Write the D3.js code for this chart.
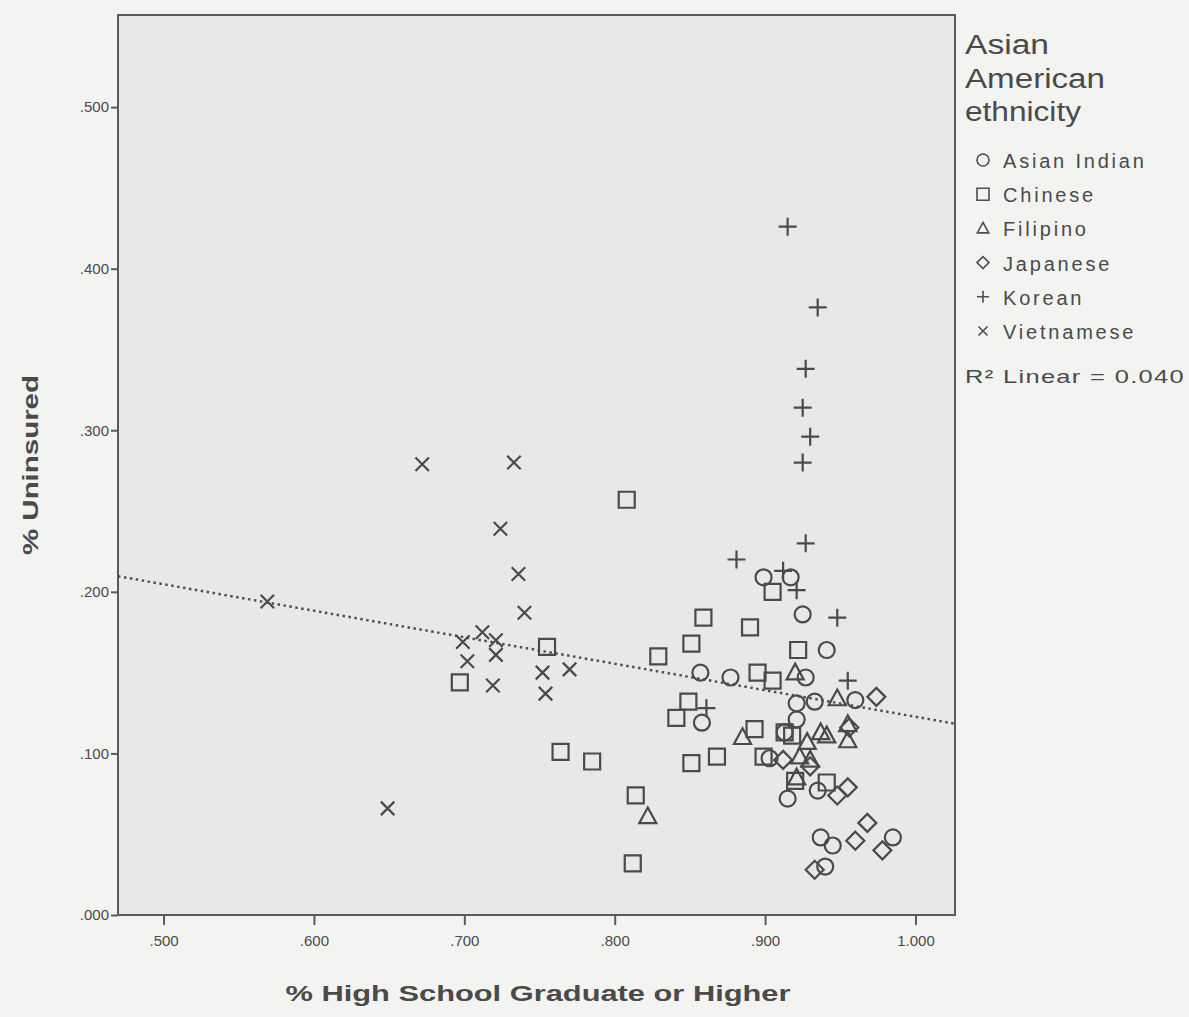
<!DOCTYPE html>
<html>
<head>
<meta charset="utf-8">
<script src="https://cdn.jsdelivr.net/npm/d3@7"></script>
<style>
  body { margin: 0; background: #f3f3f1; }
  text { font-family: "Liberation Sans", Arial, sans-serif; fill: #4a4a4a; }
</style>
</head>
<body>
<div id="chart"></div>
<script>
// values (proportions)
const categories = ["Asian Indian", "Chinese", "Filipino", "Japanese", "Korean", "Vietnamese"];

const asianIndian = [
  [0.899, 0.209], [0.917, 0.209], [0.925, 0.186], [0.941, 0.164], [0.857, 0.150],
  [0.877, 0.147], [0.927, 0.147], [0.921, 0.131], [0.960, 0.133], [0.858, 0.119],
  [0.921, 0.121], [0.903, 0.097], [0.935, 0.077], [0.915, 0.072], [0.937, 0.048],
  [0.945, 0.043], [0.985, 0.048], [0.940, 0.030], [0.913, 0.113], [0.933, 0.132]
];
const chinese = [
  [0.808, 0.257], [0.697, 0.144], [0.755, 0.166], [0.764, 0.101], [0.785, 0.095],
  [0.829, 0.160], [0.814, 0.074], [0.812, 0.032], [0.851, 0.168], [0.859, 0.184],
  [0.890, 0.178], [0.895, 0.150], [0.905, 0.145], [0.922, 0.164], [0.905, 0.200],
  [0.849, 0.132], [0.841, 0.122], [0.851, 0.094], [0.868, 0.098], [0.893, 0.115],
  [0.913, 0.113], [0.918, 0.111], [0.899, 0.098], [0.920, 0.083], [0.941, 0.082]
];
const filipino = [
  [0.822, 0.061], [0.885, 0.110], [0.920, 0.150], [0.948, 0.134], [0.941, 0.111],
  [0.955, 0.118], [0.955, 0.108], [0.928, 0.107], [0.930, 0.096], [0.937, 0.113],
  [0.923, 0.098], [0.921, 0.085]
];
const japanese = [
  [0.974, 0.135], [0.956, 0.116], [0.968, 0.057], [0.960, 0.046], [0.978, 0.040],
  [0.933, 0.028], [0.955, 0.079], [0.948, 0.074], [0.912, 0.096], [0.930, 0.092]
];
const korean = [
  [0.915, 0.426], [0.935, 0.376], [0.927, 0.338], [0.925, 0.314], [0.930, 0.296],
  [0.925, 0.280], [0.927, 0.230], [0.881, 0.220], [0.912, 0.213], [0.921, 0.201],
  [0.948, 0.184], [0.955, 0.145], [0.861, 0.128]
];
const vietnamese = [
  [0.569, 0.194], [0.672, 0.279], [0.733, 0.280], [0.724, 0.239], [0.736, 0.211],
  [0.740, 0.187], [0.712, 0.175], [0.699, 0.169], [0.721, 0.170], [0.721, 0.161],
  [0.702, 0.157], [0.719, 0.142], [0.752, 0.150], [0.754, 0.137], [0.770, 0.152],
  [0.649, 0.066]
];

const xTicks = [0.5, 0.6, 0.7, 0.8, 0.9, 1.0];
const xTickLabels = [".500", ".600", ".700", ".800", ".900", "1.000"];
const yTicks = [0, 0.1, 0.2, 0.3, 0.4, 0.5];
const yTickLabels = [".000", ".100", ".200", ".300", ".400", ".500"];

// linear fit shown in the chart
const fitIntercept = 0.2867;
const fitSlope = -0.164;
const rSquared = "0.040";

const W = 1189, H = 1017;
const plot = { left: 118, right: 955, top: 15, bottom: 915 };

const svg = d3.select("#chart").append("svg")
  .attr("width", W)
  .attr("height", H);

const xScale = d3.scaleLinear().domain([0.4697, 1.0263]).range([plot.left, plot.right]);
const yScale = d3.scaleLinear().domain([0, 0.557]).range([plot.bottom, plot.top]);

// symbol types, stroked outlines like SPSS markers
const shapes = {
  circle: { draw(ctx, r) { ctx.moveTo(r, 0); ctx.arc(0, 0, r, 0, 2 * Math.PI); } },
  square: { draw(ctx, r) { ctx.rect(-r, -r, 2 * r, 2 * r); } },
  triangle: { draw(ctx, r) { ctx.moveTo(0, -r); ctx.lineTo(r * 0.95, r * 0.75); ctx.lineTo(-r * 0.95, r * 0.75); ctx.closePath(); } },
  diamond: { draw(ctx, r) { ctx.moveTo(0, -r); ctx.lineTo(r, 0); ctx.lineTo(0, r); ctx.lineTo(-r, 0); ctx.closePath(); } },
  plus: { draw(ctx, r) { ctx.moveTo(-r, 0); ctx.lineTo(r, 0); ctx.moveTo(0, -r); ctx.lineTo(0, r); } },
  times: { draw(ctx, r) { const a = r * 0.75; ctx.moveTo(-a, -a); ctx.lineTo(a, a); ctx.moveTo(a, -a); ctx.lineTo(-a, a); } }
};

const series = [
  { name: categories[0], data: asianIndian, shape: shapes.circle, r: 8 },
  { name: categories[1], data: chinese, shape: shapes.square, r: 8 },
  { name: categories[2], data: filipino, shape: shapes.triangle, r: 9 },
  { name: categories[3], data: japanese, shape: shapes.diamond, r: 9 },
  { name: categories[4], data: korean, shape: shapes.plus, r: 9 },
  { name: categories[5], data: vietnamese, shape: shapes.times, r: 9 }
];

// plot background + frame
svg.append("rect")
  .attr("x", plot.left).attr("y", plot.top)
  .attr("width", plot.right - plot.left).attr("height", plot.bottom - plot.top)
  .attr("fill", "#e8e8e7")
  .attr("stroke", "#5a5a5a")
  .attr("stroke-width", 2);

// axes
const xAxis = svg.append("g")
  .attr("transform", `translate(0, ${plot.bottom})`)
  .call(d3.axisBottom(xScale).tickValues(xTicks).tickSize(10).tickPadding(10)
    .tickFormat((d, i) => xTickLabels[i]));

const yAxis = svg.append("g")
  .attr("transform", `translate(${plot.left}, 0)`)
  .call(d3.axisLeft(yScale).tickValues(yTicks).tickSize(7).tickPadding(2)
    .tickFormat((d, i) => yTickLabels[i]));

[xAxis, yAxis].forEach(g => {
  g.select(".domain").remove();
  g.selectAll(".tick line").attr("stroke", "#5a5a5a").attr("stroke-width", 2);
  g.selectAll(".tick text")
    .style("font-family", "'Liberation Sans', Arial, sans-serif")
    .style("font-size", "15px")
    .attr("fill", "#6a6a6a");
});

// fit line (dotted)
const fitLine = d3.line()
  .x(d => xScale(d))
  .y(d => yScale(fitIntercept + fitSlope * d));

svg.append("path")
  .datum(xScale.domain())
  .attr("d", fitLine)
  .attr("fill", "none")
  .attr("stroke", "#505050")
  .attr("stroke-width", 2.5)
  .attr("stroke-dasharray", "2.5,3.5");

// points
const sym = d3.symbol();
series.forEach(s => {
  svg.append("g")
    .attr("class", "series")
    .selectAll("path")
    .data(s.data)
    .join("path")
    .attr("transform", d => `translate(${xScale(d[0])}, ${yScale(d[1])})`)
    .attr("d", sym.type(s.shape).size(s.r)())
    .attr("fill", "none")
    .attr("stroke", "#4a4a4a")
    .attr("stroke-width", 2.2);
});

// axis titles
svg.append("text")
  .attr("x", 538).attr("y", 1001)
  .attr("text-anchor", "middle")
  .style("font-size", "22px")
  .style("font-weight", "bold")
  .attr("textLength", 505)
  .attr("lengthAdjust", "spacingAndGlyphs")
  .text("% High School Graduate or Higher");

svg.append("text")
  .attr("transform", "translate(38, 465) rotate(-90)")
  .attr("text-anchor", "middle")
  .style("font-size", "22px")
  .style("font-weight", "bold")
  .attr("textLength", 180)
  .attr("lengthAdjust", "spacingAndGlyphs")
  .text("% Uninsured");

// legend
const legend = svg.append("g").attr("transform", "translate(965, 0)");
const titleLines = ["Asian", "American", "ethnicity"];
const titleWidths = [84, 140, 116];
titleLines.forEach((t, i) => {
  legend.append("text")
    .attr("x", 0).attr("y", 54 + i * 33.5)
    .style("font-size", "27px")
    .attr("textLength", titleWidths[i])
    .attr("lengthAdjust", "spacingAndGlyphs")
    .text(t);
});

const rows = legend.selectAll("g.item")
  .data(series)
  .join("g")
  .attr("class", "item")
  .attr("transform", (d, i) => `translate(0, ${161 + i * 34.2})`);

rows.append("path")
  .attr("transform", "translate(18, -1)")
  .attr("d", d => sym.type(d.shape).size(6)())
  .attr("fill", "none")
  .attr("stroke", "#4e4e4e")
  .attr("stroke-width", 1.6);

rows.append("text")
  .attr("x", 38).attr("y", 7)
  .style("font-size", "20px")
  .style("letter-spacing", "2.8px")
  .text(d => d.name);

legend.append("text")
  .attr("x", 0).attr("y", 383)
  .style("font-size", "19px")
  .style("letter-spacing", "1px")
  .attr("textLength", 220)
  .attr("lengthAdjust", "spacingAndGlyphs")
  .text(`R\u00B2 Linear = ${rSquared}`);
</script>
</body>
</html>
